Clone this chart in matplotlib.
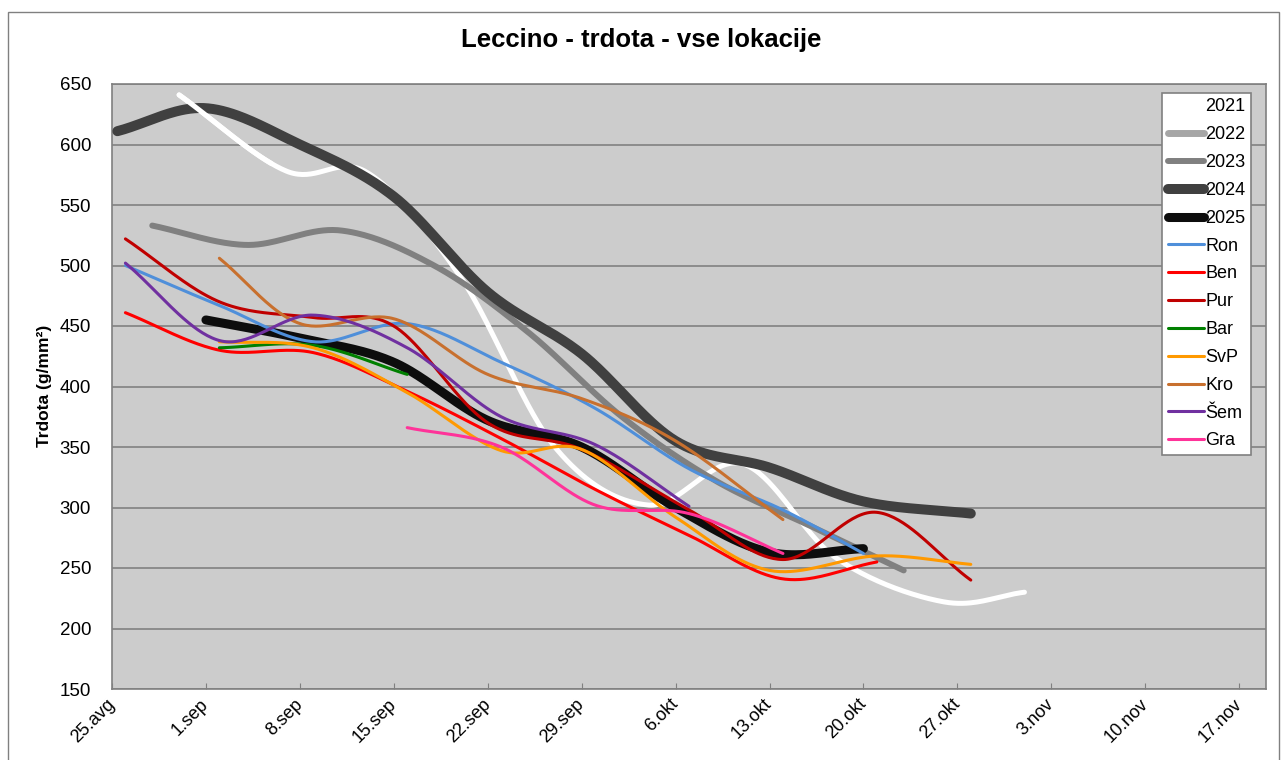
import numpy as np
import matplotlib
matplotlib.use('Agg')
import matplotlib.pyplot as plt
from matplotlib.patches import Rectangle

plt.rcParams['font.family'] = ['Liberation Sans', 'DejaVu Sans']

# days counted from 25.avg
tick_labels = ['25.avg', '1.sep', '8.sep', '15.sep', '22.sep', '29.sep', '6.okt',
               '13.okt', '20.okt', '27.okt', '3.nov', '10.nov', '17.nov']

x_2021 = [5, 13, 19, 26, 33, 40, 47, 54, 62, 68]
y_2021 = [641, 578, 577, 490, 350, 302, 336, 258, 222, 230]
x_2022 = []
y_2022 = []
x_2023 = [3, 10, 17, 24, 31, 38, 45, 52, 59]
y_2023 = [533, 517, 529, 500, 445, 375, 322, 285, 248]
x_2024 = [0.4, 7, 14, 21, 28, 35, 42, 49, 56, 64]
y_2024 = [611, 630, 600, 557, 478, 427, 355, 333, 305, 295]
x_2025 = [7, 14, 21, 28, 35, 42, 49, 56]
y_2025 = [455, 440, 420, 372, 350, 300, 263, 266]

x_ron = [1, 8, 15, 22, 29, 36, 43, 50, 56]
y_ron = [500, 467, 437, 452, 420, 382, 332, 298, 262]
x_ben = [1, 8, 15, 22, 29, 36, 43, 50, 57]
y_ben = [461, 430, 428, 396, 357, 315, 277, 241, 255]
x_pur = [1, 8, 15, 21, 28, 35, 43, 50, 57, 64]
y_pur = [522, 470, 457, 450, 370, 348, 298, 257, 296, 240]
x_bar = [8, 15, 22]
y_bar = [432, 434, 410]
x_svp = [8, 15, 22, 29, 35, 42, 49, 57, 64]
y_svp = [437, 432, 395, 347, 348, 292, 248, 260, 253]
x_kro = [8, 14, 21, 28, 35, 42, 50]
y_kro = [506, 452, 456, 410, 390, 355, 290]
x_sem = [1, 8, 15, 22, 29, 36, 43]
y_sem = [502, 438, 459, 432, 375, 352, 301]
x_gra = [22, 29, 36, 43, 50]
y_gra = [366, 350, 302, 295, 262]


def smooth(x, y, n=40):
    # Catmull-Rom spline, close to Excel's smoothed line
    x = np.asarray(x, float)
    y = np.asarray(y, float)
    if len(x) < 3:
        return x, y
    p = np.column_stack([x, y])
    p = np.vstack([2 * p[0] - p[1], p, 2 * p[-1] - p[-2]])
    out = []
    t = np.linspace(0, 1, n)[:, None]
    for i in range(1, len(p) - 2):
        p0, p1, p2, p3 = p[i - 1], p[i], p[i + 1], p[i + 2]
        seg = 0.5 * ((2 * p1) + (-p0 + p2) * t + (2 * p0 - 5 * p1 + 4 * p2 - p3) * t ** 2
                     + (-p0 + 3 * p1 - 3 * p2 + p3) * t ** 3)
        out.append(seg if i == 1 else seg[1:])
    out = np.vstack(out)
    return out[:, 0], out[:, 1]


fig = plt.figure(figsize=(12.82, 7.6), dpi=100)
ax = fig.add_axes([112 / 1282, 1 - 689 / 760, (1266 - 112) / 1282, (689 - 84) / 760])
ax.set_facecolor('#CCCCCC')

series = [
    ('2021', x_2021, y_2021, 'white', 3.6, 2),
    ('2022', x_2022, y_2022, '#A6A6A6', 5.0, 3),
    ('2023', x_2023, y_2023, '#808080', 4.3, 4),
    ('2024', x_2024, y_2024, '#404040', 7.2, 5),
    ('2025', x_2025, y_2025, '#0D0D0D', 6.5, 6),
    ('Ron', x_ron, y_ron, '#4F8FDA', 2.2, 7),
    ('Ben', x_ben, y_ben, '#FF0000', 2.2, 8),
    ('Pur', x_pur, y_pur, '#C00000', 2.2, 9),
    ('Bar', x_bar, y_bar, '#008000', 2.2, 10),
    ('SvP', x_svp, y_svp, '#FF9900', 2.2, 11),
    ('Kro', x_kro, y_kro, '#C8702E', 2.2, 12),
    ('Šem', x_sem, y_sem, '#7030A0', 2.2, 13),
    ('Gra', x_gra, y_gra, '#FF3399', 2.2, 14),
]

handles = []
for name, xs, ys, col, lw, z in series:
    sx, sy = smooth(xs, ys)
    h, = ax.plot(sx, sy, color=col, linewidth=lw, solid_capstyle='round', zorder=z, label=name)
    handles.append(h)
    if name == '2021':
        # first part of 2021 lies over 2024 in the original
        m = sx <= 12
        ax.plot(sx[m], sy[m], color=col, linewidth=lw, solid_capstyle='round', zorder=20)

ax.set_xlim(0, 86)
ax.set_ylim(150, 650)
ax.set_yticks(np.arange(150, 651, 50))
ax.set_xticks(np.arange(0, 85, 7))
ax.set_xticklabels(tick_labels, rotation=45, ha='right', va='center', rotation_mode='anchor')
ax.yaxis.grid(True, color='#8C8C8C', linewidth=1.4)
ax.set_axisbelow(True)
ax.tick_params(axis='y', length=0, pad=15, labelsize=13.5)
ax.tick_params(axis='x', direction='in', length=4, color='#808080', pad=9, labelsize=13)
for s in ax.spines.values():
    s.set_color('#808080')
    s.set_linewidth(1.2)

leg = ax.legend(handles=handles, loc='upper right', bbox_to_anchor=(0.987, 0.985),
                borderaxespad=0, fontsize=13, frameon=True, fancybox=False,
                edgecolor='#808080', framealpha=1, handlelength=2.0, handletextpad=0.1,
                labelspacing=0.6, borderpad=0.3)
leg.get_frame().set_linewidth(1.2)
leg.set_zorder(30)

fig.text(0.5, 1 - 40 / 760, 'Leccino - trdota - vse lokacije', ha='center', va='center',
         fontsize=18.5, fontweight='bold')
fig.text(45 / 1282, 1 - 386 / 760, 'Trdota (g/mm²)', rotation=90, ha='center', va='center',
         fontsize=12.5, fontweight='bold')

fig.patches.append(Rectangle((8 / 1282, -0.01), (1279 - 8) / 1282, 0.994,
                             transform=fig.transFigure, fill=False, edgecolor='#808080',
                             linewidth=1.0))

fig.savefig('out.png', dpi=100)
